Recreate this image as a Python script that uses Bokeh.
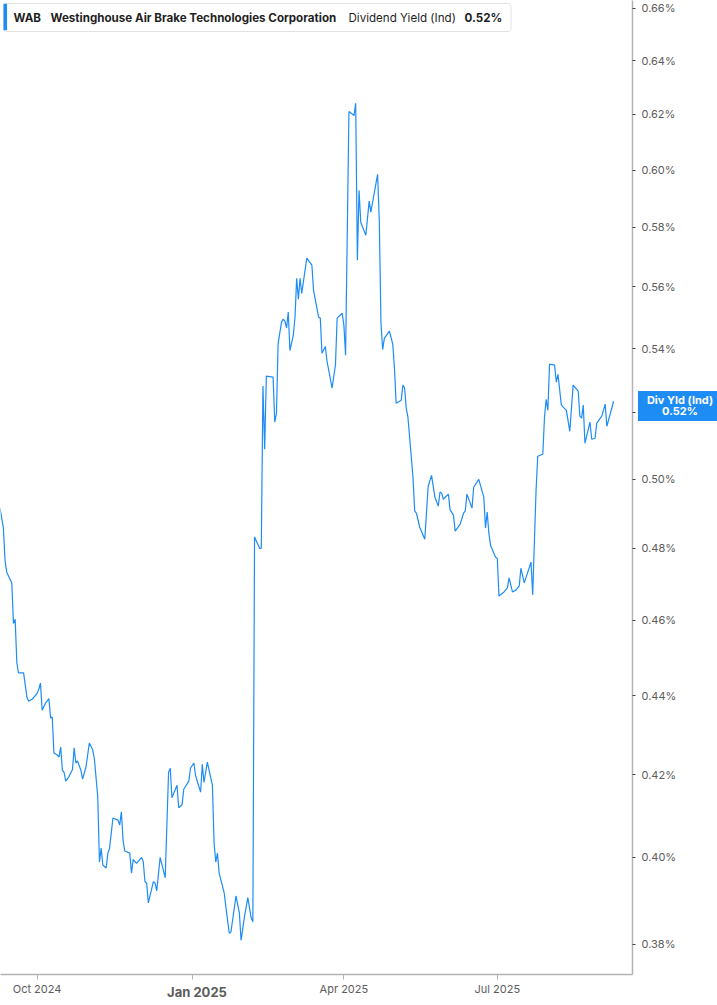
import pandas as pd
from bokeh.plotting import figure
from bokeh.layouts import column
from bokeh.models import (Range1d, FixedTicker, PrintfTickFormatter, Label,
                          ColumnDataSource, Div)
from bokeh.embed import file_html
from bokeh.resources import INLINE

# ---------------- data ----------------
dates = [
    "2024-09-09", "2024-09-11", "2024-09-12", "2024-09-13", "2024-09-16", "2024-09-17",
    "2024-09-18", "2024-09-19", "2024-09-20", "2024-09-23", "2024-09-25", "2024-09-26",
    "2024-09-28", "2024-10-01", "2024-10-02", "2024-10-03", "2024-10-04", "2024-10-06",
    "2024-10-08", "2024-10-09", "2024-10-10", "2024-10-11", "2024-10-13", "2024-10-14",
    "2024-10-15", "2024-10-16", "2024-10-17", "2024-10-18", "2024-10-20", "2024-10-22",
    "2024-10-23", "2024-10-24", "2024-10-25", "2024-10-27", "2024-10-28", "2024-10-30",
    "2024-11-01", "2024-11-03", "2024-11-04", "2024-11-06", "2024-11-07", "2024-11-08",
    "2024-11-09", "2024-11-11", "2024-11-12", "2024-11-13", "2024-11-15", "2024-11-18",
    "2024-11-19", "2024-11-20", "2024-11-21", "2024-11-22", "2024-11-25", "2024-11-26",
    "2024-11-27", "2024-11-29", "2024-12-02", "2024-12-03", "2024-12-04", "2024-12-05",
    "2024-12-06", "2024-12-09", "2024-12-10", "2024-12-11", "2024-12-13", "2024-12-16",
    "2024-12-18", "2024-12-19", "2024-12-20", "2024-12-23", "2024-12-24", "2024-12-26",
    "2024-12-27", "2024-12-30", "2024-12-31", "2025-01-02", "2025-01-03", "2025-01-06",
    "2025-01-07", "2025-01-08", "2025-01-10", "2025-01-13", "2025-01-14", "2025-01-15",
    "2025-01-16", "2025-01-17", "2025-01-20", "2025-01-21", "2025-01-23", "2025-01-24",
    "2025-01-27", "2025-01-29", "2025-01-30", "2025-02-01", "2025-02-03", "2025-02-05",
    "2025-02-06", "2025-02-07", "2025-02-10", "2025-02-11", "2025-02-12", "2025-02-13",
    "2025-02-14", "2025-02-18", "2025-02-19", "2025-02-20", "2025-02-21", "2025-02-23",
    "2025-02-24", "2025-02-25", "2025-02-26", "2025-02-27", "2025-02-28", "2025-03-02",
    "2025-03-03", "2025-03-04", "2025-03-05", "2025-03-06", "2025-03-07", "2025-03-10",
    "2025-03-13", "2025-03-14", "2025-03-17", "2025-03-18", "2025-03-19", "2025-03-21",
    "2025-03-22", "2025-03-25", "2025-03-27", "2025-03-28", "2025-03-31", "2025-04-01",
    "2025-04-02", "2025-04-04", "2025-04-07", "2025-04-08", "2025-04-09", "2025-04-10",
    "2025-04-11", "2025-04-14", "2025-04-16", "2025-04-17", "2025-04-21", "2025-04-22",
    "2025-04-23", "2025-04-24", "2025-04-25", "2025-04-28", "2025-04-30", "2025-05-01",
    "2025-05-02", "2025-05-05", "2025-05-06", "2025-05-07", "2025-05-08", "2025-05-09",
    "2025-05-12", "2025-05-13", "2025-05-14", "2025-05-16", "2025-05-19", "2025-05-21",
    "2025-05-23", "2025-05-25", "2025-05-27", "2025-05-28", "2025-05-29", "2025-05-30",
    "2025-06-02", "2025-06-03", "2025-06-05", "2025-06-06", "2025-06-09", "2025-06-11",
    "2025-06-12", "2025-06-13", "2025-06-16", "2025-06-17", "2025-06-20", "2025-06-23",
    "2025-06-24", "2025-06-25", "2025-06-26", "2025-06-27", "2025-06-30", "2025-07-01",
    "2025-07-02", "2025-07-05", "2025-07-07", "2025-07-08", "2025-07-10", "2025-07-12",
    "2025-07-14", "2025-07-15", "2025-07-17", "2025-07-21", "2025-07-22", "2025-07-24",
    "2025-07-25", "2025-07-28", "2025-07-29", "2025-07-30", "2025-07-31", "2025-08-01",
    "2025-08-04", "2025-08-05", "2025-08-06", "2025-08-08", "2025-08-11", "2025-08-13",
    "2025-08-15", "2025-08-18", "2025-08-19", "2025-08-20", "2025-08-21", "2025-08-22",
    "2025-08-25", "2025-08-26", "2025-08-28", "2025-08-29", "2025-09-01", "2025-09-03",
    "2025-09-04", "2025-09-08",
]

dividend_yield = [
    0.4915, 0.4858, 0.4766, 0.4733, 0.4703, 0.4592,
    0.4603, 0.4486, 0.4460, 0.4460, 0.4396, 0.4386,
    0.4391, 0.4406, 0.4417, 0.4433, 0.4363, 0.4381,
    0.4393, 0.4343, 0.4345, 0.4254, 0.4249, 0.4244,
    0.4269, 0.4211, 0.4206, 0.4184, 0.4196, 0.4213,
    0.4267, 0.4229, 0.4234, 0.4211, 0.4189, 0.4219,
    0.4279, 0.4262, 0.4239, 0.4145, 0.3989, 0.4022,
    0.3982, 0.3975, 0.4010, 0.4022, 0.4094, 0.4089,
    0.4077, 0.4109, 0.4041, 0.4015, 0.4010, 0.3963,
    0.3995, 0.3986, 0.4000, 0.3989, 0.3943, 0.3940,
    0.3894, 0.3943, 0.3940, 0.3922, 0.4000, 0.3952,
    0.4206, 0.4216, 0.4143, 0.4174, 0.4119, 0.4126,
    0.4164, 0.4184, 0.4216, 0.4229, 0.4198, 0.4157,
    0.4226, 0.4181, 0.4231, 0.4174, 0.4034, 0.3989,
    0.4010, 0.3963, 0.3917, 0.3885, 0.3825, 0.3828,
    0.3910, 0.3871, 0.3809, 0.3862, 0.3906, 0.3860,
    0.3851, 0.4832, 0.4800, 0.4800, 0.5282, 0.5089,
    0.5313, 0.5310, 0.5171, 0.5198, 0.5417, 0.5485,
    0.5495, 0.5488, 0.5466, 0.5518, 0.5394, 0.5443,
    0.5501, 0.5629, 0.5560, 0.5629, 0.5579, 0.5696,
    0.5673, 0.5589, 0.5501, 0.5498, 0.5385, 0.5407,
    0.5360, 0.5276, 0.5348, 0.5498, 0.5514, 0.5475,
    0.5379, 0.6211, 0.6196, 0.6241, 0.5689, 0.5929,
    0.5818, 0.5773, 0.5891, 0.5853, 0.5985, 0.5825,
    0.5482, 0.5397, 0.5433, 0.5456, 0.5414, 0.5338,
    0.5229, 0.5238, 0.5285, 0.5276, 0.5213, 0.5186,
    0.5005, 0.4907, 0.4901, 0.4860, 0.4826, 0.4979,
    0.5011, 0.4947, 0.4921, 0.4962, 0.4959, 0.4941,
    0.4956, 0.4910, 0.4895, 0.4849, 0.4869, 0.4901,
    0.4907, 0.4956, 0.4915, 0.4976, 0.4999, 0.4947,
    0.4858, 0.4904, 0.4843, 0.4808, 0.4775, 0.4772,
    0.4667, 0.4678, 0.4689, 0.4717, 0.4678, 0.4683,
    0.4694, 0.4744, 0.4703, 0.4761, 0.4670, 0.4967,
    0.5068, 0.5074, 0.5186, 0.5241, 0.5207, 0.5351,
    0.5348, 0.5294, 0.5319, 0.5223, 0.5207, 0.5143,
    0.5285, 0.5266, 0.5189, 0.5183, 0.5223, 0.5107,
    0.5171, 0.5119, 0.5122, 0.5168, 0.5189, 0.5226,
    0.5158, 0.5235,
]

y_tick_values = [0.38, 0.40, 0.42, 0.44, 0.46, 0.48, 0.50, 0.52,
                 0.54, 0.56, 0.58, 0.60, 0.62, 0.64, 0.66]
x_tick_dates = ["2024-10-01", "2025-01-01", "2025-04-01", "2025-07-01"]
x_tick_labels = ["Oct 2024", "Jan 2025", "Apr 2025", "Jul 2025"]
bold_tick_label = "Jan 2025"

x_start, x_end = "2024-09-09 07:12", "2025-09-19 05:00"
y_low, y_high = 0.3733, 0.6631

symbol = "WAB"
company = "Westinghouse Air Brake Technologies Corporation"
metric = "Dividend Yield (Ind)"
metric_short = "Div Yld (Ind)"
last_label = "0.52%"

# ---------------- styling ----------------
FONT = "Inter"
BLUE = "#1E8CF5"
AXIS_GRAY = "#b3b3b3"
TEXT_GRAY = "#5c5c5c"

W, H = 717, 1005
RIGHT_W, BOTTOM_H = 85, 31
FRAME_W, FRAME_H = W - RIGHT_W, H - BOTTOM_H

def ms(d):
    return int(pd.Timestamp(d).value // 10**6)

def sy(top_px):
    # screen units measured from the frame bottom
    return FRAME_H - top_px

source = ColumnDataSource(dict(date=pd.to_datetime(dates), yld=dividend_yield))

p = figure(width=W, height=H, x_axis_type="datetime", y_axis_type="log",
           y_axis_location="right",
           x_range=Range1d(pd.Timestamp(x_start), pd.Timestamp(x_end)),
           y_range=Range1d(y_low, y_high),
           output_backend="svg", toolbar_location=None,
           min_border_left=0, min_border_top=0,
           min_border_right=RIGHT_W, min_border_bottom=BOTTOM_H)
p.outline_line_color = None
p.background_fill_color = "white"
p.border_fill_color = "white"
p.xgrid.grid_line_color = None
p.ygrid.grid_line_color = None

p.line(x="date", y="yld", source=source, line_color=BLUE, line_width=1.2)

# y axis (right)
ya = p.yaxis[0]
ya.ticker = FixedTicker(ticks=y_tick_values)
ya.formatter = PrintfTickFormatter(format="%.2f%%")
ya.axis_line_color = AXIS_GRAY
ya.axis_line_width = 1.5
ya.major_tick_line_color = "#444444"
ya.major_tick_in = 0
ya.major_tick_out = 3
ya.minor_tick_line_color = None
ya.major_label_standoff = 6
ya.major_label_text_font = FONT
ya.major_label_text_font_size = "11px"
ya.major_label_text_color = TEXT_GRAY

# x axis
xa = p.xaxis[0]
xa.ticker = FixedTicker(ticks=[ms(d) for d in x_tick_dates])
xa.major_label_overrides = {ms(d): ("" if lab == bold_tick_label else lab)
                            for d, lab in zip(x_tick_dates, x_tick_labels)}
xa.axis_line_color = AXIS_GRAY
xa.axis_line_width = 1.5
xa.major_tick_line_color = AXIS_GRAY
xa.major_tick_in = 0
xa.major_tick_out = 5
xa.minor_tick_line_color = None
xa.major_label_standoff = 2
xa.major_label_text_font = FONT
xa.major_label_text_font_size = "11px"
xa.major_label_text_color = TEXT_GRAY

# legend box (top-left): white rounded box drawn as the first label's background
LEG_SIZE = "11.6px"
p.add_layout(Label(x=3, y=sy(17), x_units="screen", y_units="screen",
                   text=symbol, text_baseline="middle", text_align="left",
                   text_font=FONT, text_font_style="bold",
                   text_font_size=LEG_SIZE, text_color="#1f1f1f",
                   background_fill_color="white",
                   border_line_color="#e2e2e2", border_line_width=1,
                   border_radius=3,
                   padding=dict(left=10, right=470, top=7, bottom=7),
                   level="overlay"))
# blue accent bar at the left of the legend box
p.add_layout(Label(x=3, y=sy(16.5), x_units="screen", y_units="screen",
                   text=" ", text_baseline="middle", text_align="left",
                   text_font=FONT, text_font_size="2px",
                   background_fill_color=BLUE,
                   padding=dict(left=1, right=2, top=12, bottom=12),
                   level="overlay"))

legend_items = [(50, company, "bold"), (348, metric, "normal"),
                (464, last_label, "bold")]
for xpos, txt, style in legend_items:
    p.add_layout(Label(x=xpos, y=sy(17), x_units="screen", y_units="screen",
                       text=txt, text_baseline="middle", text_align="left",
                       text_font=FONT, text_font_style=style,
                       text_font_size=LEG_SIZE, text_color="#1f1f1f",
                       level="overlay"))

# ---- items that lie outside the main frame (frame clips annotations) ----
def overlay_div(html, w, h, left, top, extra):
    st = {"position": "absolute", "left": f"{left}px", "top": f"{top}px",
          "width": f"{w}px", "height": f"{h}px", "box-sizing": "border-box",
          "font-family": FONT, "text-align": "center", "overflow": "hidden"}
    st.update(extra)
    return Div(text=html, width=w, height=h, styles=st)

# last value tag on the right axis
TAG_W, TAG_H = W - FRAME_W - 1, 30
tag = overlay_div(f"{metric_short}<br>{last_label}", TAG_W, TAG_H, FRAME_W + 1, 386,
                  {"background-color": BLUE, "color": "white", "font-weight": "bold",
                   "font-size": "11px", "line-height": "11px", "padding-top": "3.5px"})

# bold "Jan 2025" tick label
bold_ms = ms(x_tick_dates[x_tick_labels.index(bold_tick_label)])
x0, x1 = ms(x_start), ms(x_end)
jan_cx = (bold_ms - x0) / (x1 - x0) * FRAME_W
JAN_W, JAN_H = 70, 18
jan = overlay_div(bold_tick_label, JAN_W, JAN_H, round(jan_cx - JAN_W / 2), FRAME_H + 4,
                  {"color": TEXT_GRAY, "font-weight": "bold", "font-size": "13px",
                   "line-height": "18px"})

layout = column(p, tag, jan, spacing=0)
open("out.html", "w").write(file_html(layout, INLINE))
